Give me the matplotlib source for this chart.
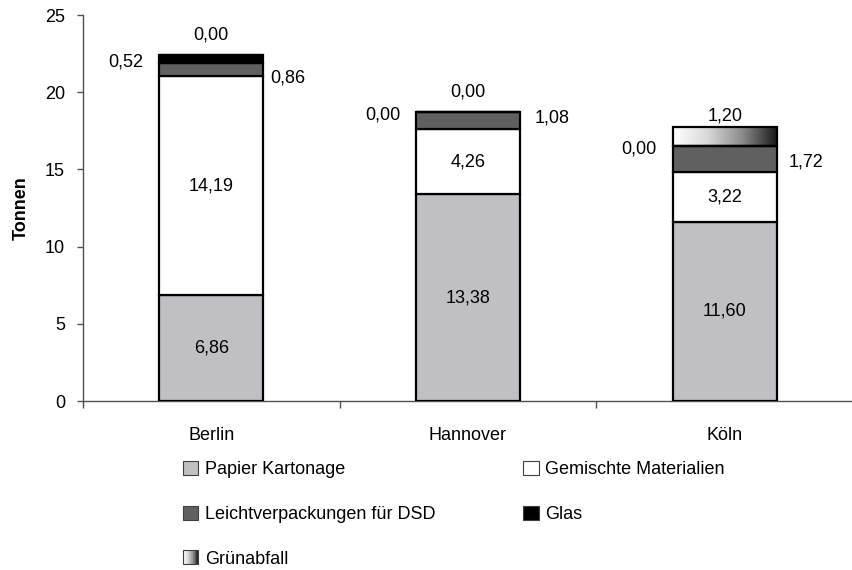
import numpy as np
import matplotlib
matplotlib.use("Agg")
import matplotlib.pyplot as plt
from matplotlib.patches import Rectangle
from matplotlib.colors import LinearSegmentedColormap
from matplotlib.legend_handler import HandlerBase

plt.rcParams['font.family'] = ['Liberation Sans', 'DejaVu Sans']

# --- DATEN ---
staedte = ['Berlin', 'Hannover', 'Köln']
papier = [6.86, 13.38, 11.60]
gemischt = [14.19, 4.26, 3.22]
lvp = [0.86, 1.08, 1.72]
glas = [0.52, 0.00, 0.00]
gruen = [0.00, 0.00, 1.20]

serien = ['Papier Kartonage', 'Gemischte Materialien',
          'Leichtverpackungen für DSD', 'Glas', 'Grünabfall']

# Versatz der Beschriftungen (Pixel), nur Layout
lvp_dx = [7, 15, 12]
lvp_dy = [-9, 2, -3]

verlauf = LinearSegmentedColormap.from_list('verlauf', ['#ffffff', '#d8d8d8', '#8c8c8c', '#1a1a1a'])


def fmt(v):
    return f'{v:.2f}'.replace('.', ',')


class HandlerVerlauf(HandlerBase):
    def create_artists(self, legend, orig_handle, xdescent, ydescent,
                       width, height, fontsize, trans):
        n = 24
        teile = []
        for i in range(n):
            teile.append(Rectangle((-xdescent + i * width / n, -ydescent), width / n, height,
                                   facecolor=verlauf(i / (n - 1)), edgecolor='none', transform=trans))
        teile.append(Rectangle((-xdescent, -ydescent), width, height, facecolor='none',
                               edgecolor='#404040', lw=0.8, transform=trans))
        return teile


fig = plt.figure(figsize=(8.53, 5.70), dpi=100)
ax = fig.add_axes([83 / 853, 169 / 570, 770 / 853, 386 / 570])

x = np.arange(len(staedte))
b = 0.405
kw = dict(width=b, edgecolor='black', linewidth=1.6, zorder=3)

unten = np.zeros(len(staedte))
b_pap = ax.bar(x, papier, bottom=unten, color='#c0c0c4', **kw)
unten += papier
b_gem = ax.bar(x, gemischt, bottom=unten, color='white', **kw)
unten += gemischt
b_lvp = ax.bar(x, lvp, bottom=unten, color='#606060', **kw)
unten += lvp
b_gla = ax.bar(x, glas, bottom=unten, color='black', **kw)
unten += glas
b_gru = ax.bar(x, gruen, bottom=unten, color='none', **kw)

# Farbverlauf für Grünabfall
for r in b_gru:
    if r.get_height() > 0:
        ax.imshow(np.linspace(0, 1, 256).reshape(1, -1), cmap=verlauf, aspect='auto',
                  extent=[r.get_x(), r.get_x() + r.get_width(), r.get_y(), r.get_y() + r.get_height()],
                  zorder=2.5)

ax.set_xlim(-0.5, 2.5)
ax.set_ylim(0, 25)

# Beschriftungen
fs = 13
for i, r in enumerate(b_pap):
    ax.text(r.get_x() + b / 2, r.get_y() + r.get_height() / 2, fmt(papier[i]),
            ha='center', va='center', fontsize=fs, zorder=5)
for i, r in enumerate(b_gem):
    ax.text(r.get_x() + b / 2, r.get_y() + r.get_height() / 2, fmt(gemischt[i]),
            ha='center', va='center', fontsize=fs, zorder=5)
for i, r in enumerate(b_lvp):
    ax.annotate(fmt(lvp[i]), (r.get_x() + b, r.get_y() + r.get_height() / 2),
                xytext=(lvp_dx[i], lvp_dy[i]), textcoords='offset pixels',
                ha='left', va='center', fontsize=fs)
for i, r in enumerate(b_gla):
    ax.annotate(fmt(glas[i]), (r.get_x(), r.get_y() + r.get_height() / 2),
                xytext=(-16, -3), textcoords='offset pixels',
                ha='right', va='center', fontsize=fs)
for i, r in enumerate(b_gru):
    ax.annotate(fmt(gruen[i]), (r.get_x() + b / 2, r.get_y() + r.get_height() / 2),
                xytext=(0, 20), textcoords='offset pixels',
                ha='center', va='center', fontsize=fs)

# Achsen
for s in ['top', 'right']:
    ax.spines[s].set_visible(False)
for s in ['left', 'bottom']:
    ax.spines[s].set_color('#505050')
    ax.spines[s].set_linewidth(1.0)

ax.set_yticks(np.arange(0, 26, 5))
ax.tick_params(axis='y', direction='out', length=4, width=1, color='#505050',
               labelsize=fs, pad=9)
ax.set_xticks(x)
ax.set_xticklabels(staedte)
ax.set_xticks([-0.5, 0.5, 1.5, 2.5], minor=True)
ax.tick_params(axis='x', which='major', length=0, labelsize=fs, pad=19)
ax.tick_params(axis='x', which='minor', direction='out', length=5, width=1, color='#505050')
ax.set_ylabel('Tonnen', fontsize=fs, fontweight='bold', labelpad=11)

# Legende
fc = ['#c0c0c4', 'white', '#606060', 'black']
griffe = [Rectangle((0, 0), 1, 1, facecolor=c, edgecolor='#404040', lw=0.8) for c in fc]
griffe.append(Rectangle((0, 0), 1, 1))
reihenfolge = [0, 2, 4, 1, 3]
fig.legend([griffe[k] for k in reihenfolge], [serien[k] for k in reihenfolge],
           ncol=2, loc='upper left', bbox_to_anchor=(183 / 853, 1 - 461 / 570),
           frameon=False, fontsize=fs, handlelength=0.85, handleheight=0.85,
           handletextpad=0.37, labelspacing=1.5, columnspacing=4.87,
           borderpad=0, borderaxespad=0,
           handler_map={griffe[4]: HandlerVerlauf()})

fig.savefig('out.png', dpi=100)
